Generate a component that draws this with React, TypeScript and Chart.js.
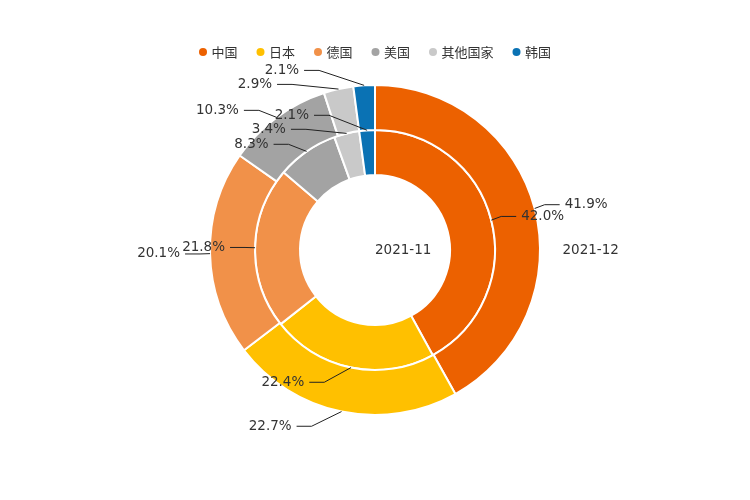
import React, { useEffect, useRef } from 'react';
import { Chart, registerables } from 'chart.js';

Chart.register(...registerables);

const categories = ['中国', '日本', '德国', '美国', '其他国家', '韩国'];
const seriesNames = ['2021-12', '2021-11'];
const values2021_12 = [41.9, 22.7, 20.1, 10.3, 2.9, 2.1];
const values2021_11 = [42.0, 22.4, 21.8, 8.3, 3.4, 2.1];
const sliceColors = ['#EC6100', '#FFC000', '#F19149', '#A3A3A3', '#C9C9C9', '#0A72B4'];

const LABEL_FONT = "13.5px 'DejaVu Sans', sans-serif";
const LEGEND_FONT = "13px 'Noto Sans CJK SC', 'DejaVu Sans', sans-serif";
const TEXT_COLOR = '#333333';
const LINE_COLOR = '#222222';

type Item = {
  x: number;
  y: number;
  h: number;
  len: number;
  len2: number;
  dir: number;
  text: string;
  lp: number[][];
};

function adjustSide(list: Item[], cx: number, cy: number, r: number, dir: number, viewTop: number, viewHeight: number) {
  list.sort((a, b) => a.y - b.y);
  const n = list.length;
  const shiftUp = (end: number, delta: number) => {
    for (let j = end; j >= 0; j--) {
      if (list[j].y - delta < viewTop) break;
      list[j].y -= delta;
      if (j > 0 && list[j].y > list[j - 1].y + list[j - 1].h) break;
    }
  };
  const shiftDown = (start: number, end: number, delta: number) => {
    for (let j = start; j < end; j++) {
      if (list[j].y + delta > viewTop + viewHeight) break;
      list[j].y += delta;
      if (j > start && j + 1 < end && list[j + 1].y > list[j].y + list[j].h) {
        shiftUp(j, delta / 2);
        return;
      }
    }
    shiftUp(end - 1, delta / 2);
  };
  let lastY = 0;
  for (let i = 0; i < n; i++) {
    const delta = list[i].y - lastY;
    if (delta < 0) shiftDown(i, n, -delta);
    lastY = list[i].y + list[i].h;
  }
  if (viewHeight - lastY < 0) shiftUp(n - 1, lastY - viewHeight);
  const up = list.filter((it) => it.y < cy);
  const down = list.filter((it) => it.y >= cy);
  const changeX = (arr: Item[], isDown: boolean) => {
    let last = isDown ? Number.MAX_VALUE : 0;
    for (const it of arr) {
      const dY = Math.abs(it.y - cy);
      const R = r + it.len + it.len2;
      let dX = dY < r + it.len ? Math.sqrt(R * R - dY * dY) : Math.abs(it.x - cx);
      if (isDown && dX >= last) dX = last - 10;
      if (!isDown && dX <= last) dX = last + 10;
      it.x = cx + dX * dir;
      last = dX;
    }
  };
  changeX(up, false);
  changeX(down, true);
}

const labelPlugin = {
  id: 'pieOuterLabels',
  afterDatasetsDraw(chart: any) {
    const ctx = chart.ctx as CanvasRenderingContext2D;
    ctx.save();
    chart.data.datasets.forEach((ds: any, di: number) => {
      const meta = chart.getDatasetMeta(di);
      const items: Item[] = [];
      let cx = 0, cy = 0, r = 0;
      meta.data.forEach((arc: any, i: number) => {
        const p = arc.getProps(['x', 'y', 'startAngle', 'endAngle', 'outerRadius'], true);
        cx = p.x; cy = p.y; r = p.outerRadius;
        const mid = (p.startAngle + p.endAngle) / 2;
        const dx = Math.cos(mid), dy = Math.sin(mid);
        const len = 15, len2 = 15, gap = 5;
        const x1 = cx + r * dx, y1 = cy + r * dy;
        const x2 = cx + (r + len) * dx, y2 = cy + (r + len) * dy;
        const dir = dx < 0 ? -1 : 1;
        const x3 = x2 + dir * len2;
        items.push({
          x: x3 + dir * gap,
          y: y2,
          h: 14,
          len,
          len2,
          dir,
          text: `${Number(ds.data[i]).toFixed(1)}%`,
          lp: [[x1, y1], [x2, y2], [x3, y2]],
        });
      });
      const left = items.filter((it) => it.x < cx);
      const right = items.filter((it) => it.x >= cx);
      adjustSide(right, cx, cy, r, 1, 0, chart.height);
      adjustSide(left, cx, cy, r, -1, 0, chart.height);
      items.forEach((it) => {
        const d = it.lp[1][0] - it.lp[2][0];
        it.lp[2][0] = it.x - it.dir * 5;
        it.lp[1][0] = it.lp[2][0] + d;
        it.lp[1][1] = it.y;
        it.lp[2][1] = it.y;
        ctx.beginPath();
        ctx.moveTo(it.lp[0][0], it.lp[0][1]);
        ctx.lineTo(it.lp[1][0], it.lp[1][1]);
        ctx.lineTo(it.lp[2][0], it.lp[2][1]);
        ctx.strokeStyle = LINE_COLOR;
        ctx.lineWidth = 1;
        ctx.stroke();
        ctx.font = LABEL_FONT;
        ctx.fillStyle = TEXT_COLOR;
        ctx.textBaseline = 'middle';
        ctx.textAlign = it.dir < 0 ? 'right' : 'left';
        ctx.fillText(it.text, it.x, it.y);
      });
    });
    ctx.restore();
  },
};

const extrasPlugin = {
  id: 'legendAndTitles',
  afterDraw(chart: any) {
    const ctx = chart.ctx as CanvasRenderingContext2D;
    const w = chart.width, h = chart.height;
    ctx.save();
    ctx.font = LABEL_FONT;
    ctx.fillStyle = TEXT_COLOR;
    ctx.textBaseline = 'middle';
    ctx.textAlign = 'left';
    ctx.fillText(seriesNames[1], w * 0.5, h * 0.5);
    ctx.fillText(seriesNames[0], w * 0.75, h * 0.5);
    ctx.font = LEGEND_FONT;
    const iconR = 4;
    const iconGap = 4.5;
    const itemGap = 19;
    const widths = categories.map((c) => ctx.measureText(c).width);
    const total = widths.reduce((s, v) => s + v + iconR * 2 + iconGap, 0) + itemGap * (categories.length - 1);
    let x = (w - total) / 2;
    const ly = 52;
    categories.forEach((c, i) => {
      ctx.beginPath();
      ctx.arc(x + iconR, ly, iconR, 0, Math.PI * 2);
      ctx.fillStyle = sliceColors[i];
      ctx.fill();
      ctx.fillStyle = TEXT_COLOR;
      ctx.textAlign = 'left';
      ctx.textBaseline = 'middle';
      ctx.fillText(c, x + iconR * 2 + iconGap, ly + 0.5);
      x += iconR * 2 + iconGap + widths[i] + itemGap;
    });
    ctx.restore();
  },
};

export default function App() {
  const canvasRef = useRef<HTMLCanvasElement | null>(null);
  useEffect(() => {
    if (!canvasRef.current) return;
    const chart = new Chart(canvasRef.current, {
      type: 'doughnut',
      data: {
        labels: categories,
        datasets: [
          {
            label: seriesNames[0],
            data: values2021_12,
            backgroundColor: sliceColors,
            borderColor: '#ffffff',
            borderWidth: 2,
          },
          {
            label: seriesNames[1],
            data: values2021_11,
            backgroundColor: sliceColors,
            borderColor: '#ffffff',
            borderWidth: 2,
          },
        ],
      },
      options: {
        responsive: false,
        animation: false,
        events: [],
        radius: 165,
        cutout: '45.45%',
        layout: { padding: 0 },
        plugins: {
          legend: { display: false },
          tooltip: { enabled: false },
          title: { display: false },
        },
      } as any,
      plugins: [labelPlugin, extrasPlugin],
    });
    return () => chart.destroy();
  }, []);
  return (
    <div style={{ position: 'absolute', left: 0, top: 0, width: 750, height: 500, background: '#fff' }}>
      <canvas ref={canvasRef} width={750} height={500} />
    </div>
  );
}
